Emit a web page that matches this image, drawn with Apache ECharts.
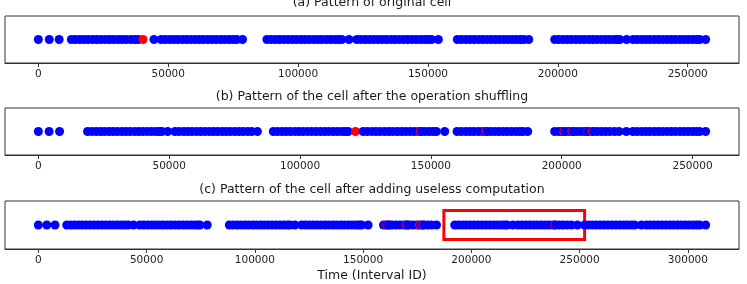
<!DOCTYPE html>
<html>
<head>
<meta charset="utf-8">
<script src="https://cdn.jsdelivr.net/npm/echarts@6/dist/echarts.min.js"></script>
<style>
html,body{margin:0;padding:0;background:#fff;}
#chart{width:747px;height:284px;}
</style>
</head>
<body>
<div id="chart"></div>
<script>
// ---------- data ----------
const titles = [
  "(a) Pattern of original cell",
  "(b) Pattern of the cell after the operation shuffling",
  "(c) Pattern of the cell after adding useless computation"
];
const xLabel = "Time (Interval ID)";

const tickValuesA = [0, 50000, 100000, 150000, 200000, 250000];
const tickValuesB = [0, 50000, 100000, 150000, 200000, 250000];
const tickValuesC = [0, 50000, 100000, 150000, 200000, 250000, 300000];

const blueA = [
  0, 4200, 8000,
  12700,14300,16000,17600,19200,20900,22500,24100,25800,27400,29000,30700,32300,33900,35600,37100,38500,
  44500,
  47300,48900,50600,52200,53800,55500,57100,58700,60400,62000,63600,65300,66900,68500,70200,71800,73400,75000,76400,
  78600,
  88000,89600,91300,92900,94500,96200,97800,99400,101100,102700,104300,106000,107600,109200,110900,112500,114100,115500,116800,
  119600,
  122600,124200,125900,127500,129100,130800,132400,134000,135700,137300,138900,140600,142200,143800,145500,147100,148700,150100,151400,
  154000,
  161300,162900,164600,166200,167800,169500,171100,172700,174400,176000,177600,179300,180900,182500,184000,185500,186900,
  188800,
  198800,200400,202100,203700,205300,207000,208600,210200,211900,213500,215100,216800,218400,220000,221600,222700,223800,
  226500,
  229000,230600,232300,233900,235500,237200,238800,240400,242100,243700,245300,247000,248600,250200,251800,253300,254600,
  256900
];
const redA = [40300];

const blueB = [
  0, 4100, 8100,
  18800,20400,22100,23700,25300,27000,28600,30200,31900,33500,35100,36800,38400,40000,41700,43300,44900,46100,47200,
  49400,
  52200,53800,55500,57100,58700,60400,62000,63600,65300,66900,68500,70200,71800,73400,75100,76700,78300,80000,81500,
  83700,
  89800,91400,93100,94700,96300,98000,99600,101200,102900,104500,106100,107800,109400,111000,112700,114300,115900,117200,118400,
  124100,125700,127400,129000,130600,132300,133900,135500,137200,138800,140400,142100,143700,145300,146400,147800,149300,150800,152100,
  155300,
  160000,161600,163300,164900,166500,168200,169800,171400,172800,174400,176000,177600,179200,180800,182400,183900,185200,
  187000,
  197300,198900,200100,201200,202600,204300,205700,207200,208700,210100,212100,213600,215200,216800,218400,220200,221900,
  224700,
  227200,228800,230500,232100,233700,235400,237000,238600,240300,241900,243500,245200,246800,248400,250000,251400,252700,
  255000
];
const redB = [121200, 146000, 171000, 200800, 203900, 210000, 211700];

const blueC = [
  0, 3900, 7700,
  13100,14900,16700,18500,20300,22100,23900,25700,27500,29300,31100,32900,34700,36500,38300,40000,41500,
  44000,
  46900,48700,50500,52300,54100,55900,57700,59500,61300,63100,64900,66700,68500,70300,72000,73400,74600,
  78000,
  88200,90000,91800,93600,95400,97200,99000,100800,102600,104400,106200,108000,109800,111600,113400,115000,116200,
  118500,
  121600,123400,125200,127000,128800,130600,132400,134200,136000,137800,139600,141400,143200,145000,146800,148200,149300,
  152300,
  159400,161000,162100,163500,165200,167000,168800,170400,171200,173000,174800,176600,178100,179800,181600,
  183900,
  192300,194100,195900,197700,199500,201300,203100,204900,206700,208500,210300,212100,213900,215300,216500,
  219200,
  221500,223300,225100,226900,228700,230500,232300,234100,235900,237700,238900,240600,242400,244300,246200,
  249000,
  252300,254100,255900,257700,259500,261300,263100,264900,266700,268500,270300,272100,273900,275400,
  278500,
  280800,282600,284400,286200,288000,289800,291600,293400,295200,297000,298800,300600,302400,304000,305400,
  308200
];
const redC = [160700, 162000, 170000, 176000, 177600, 238500];

// highlight box in panel (c): [x0, x1, y0, y1] in data units
const boxC = [187300, 252300, 0.6, -0.6];

// axis ranges (data extent plus 5% margins)
const rangeA = [-12845, 269745];
const rangeB = [-12750, 267750];
const rangeC = [-15410, 323610];

// ---------- build ----------
const BLUE = '#0000ff', RED = '#ff0000';
function merge(blue, red) {
  const pts = blue.map(v => ({v, c: BLUE})).concat(red.map(v => ({v, c: RED})));
  pts.sort((a, b) => a.v - b.v);
  return pts.map(p => ({value: [p.v, 0], itemStyle: {color: p.c, opacity: 1}}));
}

const FONT = 'DejaVu Sans';
const grids = [
  {left: 5, right: 8, top: 16, height: 47},
  {left: 5, right: 8, top: 108, height: 47},
  {left: 5, right: 8, top: 201, height: 48}
].map(g => Object.assign(g, {show: true, borderColor: '#333', borderWidth: 1, backgroundColor: 'transparent'}));

function xAxisFor(i, range, ticks, extra) {
  return Object.assign({
    type: 'value', gridIndex: i, min: range[0], max: range[1],
    axisLine: {show: true, onZero: false, lineStyle: {color: '#333', width: 1}},
    splitLine: {show: false},
    axisTick: {show: true, customValues: ticks, length: 4, lineStyle: {color: '#333', width: 1}},
    axisLabel: {customValues: ticks, margin: 6, color: '#222', fontFamily: FONT, fontSize: 10.5,
      formatter: v => String(v)}
  }, extra || {});
}
function yAxisFor(i) {
  return {type: 'value', gridIndex: i, min: -1, max: 1, show: false};
}

const titleY = [-4, 90, 183];
const chart = echarts.init(document.getElementById('chart'), null, {renderer: 'canvas'});
chart.setOption({
  animation: false,
  backgroundColor: '#fff',
  title: titles.map((t, i) => ({
    text: t, left: 372, top: titleY[i], textAlign: 'center', padding: 0,
    textStyle: {fontFamily: FONT, fontSize: 12.5, fontWeight: 'normal', color: '#1a1a1a'}
  })),
  grid: grids,
  xAxis: [
    xAxisFor(0, rangeA, tickValuesA),
    xAxisFor(1, rangeB, tickValuesB),
    xAxisFor(2, rangeC, tickValuesC, {
      name: xLabel, nameLocation: 'middle', nameGap: 20,
      nameTextStyle: {fontFamily: FONT, fontSize: 12.5, color: '#1a1a1a'}
    })
  ],
  yAxis: [yAxisFor(0), yAxisFor(1), yAxisFor(2)],
  series: [
    {type: 'scatter', xAxisIndex: 0, yAxisIndex: 0, symbolSize: 9, itemStyle: {opacity: 1}, data: merge(blueA, redA), silent: true},
    {type: 'scatter', xAxisIndex: 1, yAxisIndex: 1, symbolSize: 9, itemStyle: {opacity: 1}, data: merge(blueB, redB), silent: true},
    {type: 'scatter', xAxisIndex: 2, yAxisIndex: 2, symbolSize: 9, itemStyle: {opacity: 1}, data: merge(blueC, redC), silent: true},
    {type: 'scatter', xAxisIndex: 2, yAxisIndex: 2, data: [], z: 10, silent: true,
      markArea: {
        silent: true,
        itemStyle: {color: 'rgba(0,0,0,0)', borderColor: RED, borderWidth: 3},
        data: [[{coord: [boxC[0], boxC[2]]}, {coord: [boxC[1], boxC[3]]}]]
      }
    }
  ]
});
</script>
</body>
</html>
